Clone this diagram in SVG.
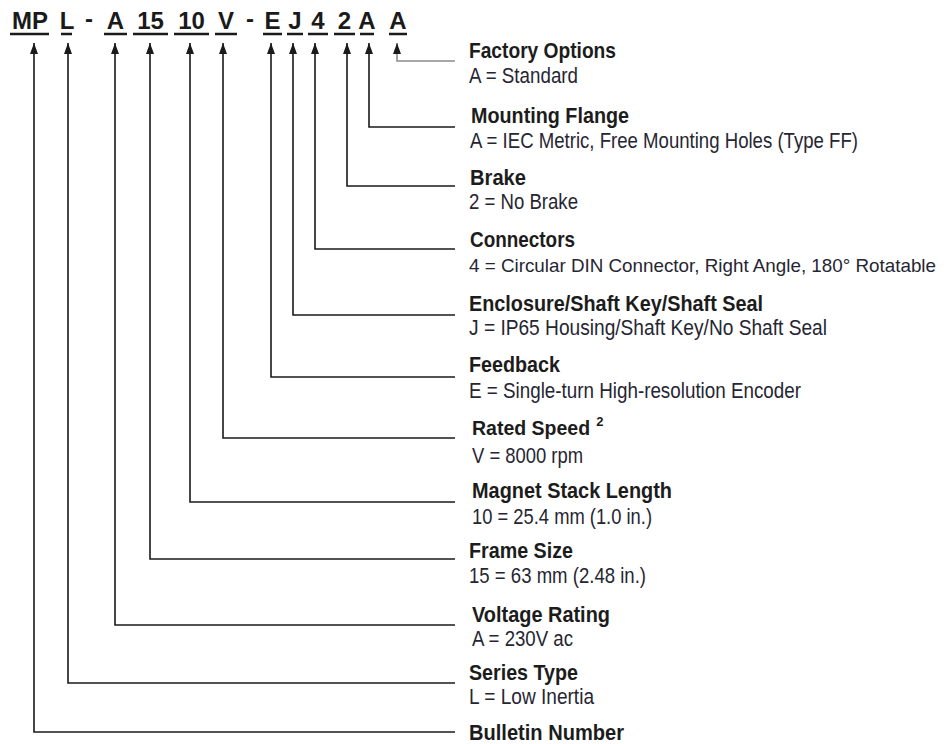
<svg xmlns="http://www.w3.org/2000/svg" width="947" height="744" viewBox="0 0 947 744">
<style>
.code{font-family:"Liberation Sans",Arial,sans-serif;font-weight:bold;font-size:24px;fill:#1a1a1a;text-anchor:middle}
.ul{stroke:#1a1a1a;stroke-width:2.6}
.t{font-family:"Liberation Sans Narrow","Liberation Sans",Arial,sans-serif;font-weight:bold;font-size:21.5px;fill:#1c1c1c}
.s{font-family:"Liberation Sans Narrow","Liberation Sans",Arial,sans-serif;font-size:22px;fill:#262633}
.c{fill:none;stroke:#1a1a1a;stroke-width:1.6;marker-start:url(#ah)}
.g{stroke:#8a8a8a}
</style>
<defs>
<marker id="ah" markerUnits="userSpaceOnUse" markerWidth="11" markerHeight="8" viewBox="0 0 11 8" refX="11" refY="4" orient="auto-start-reverse">
<path d="M0,0 L11,4 L0,8 Z" fill="#1a1a1a"/>
</marker>
</defs>
<g id="code">
<text class="code" x="30" y="29">MP</text>
<text class="code" x="67" y="29">L</text>
<text class="code" x="89" y="27">-</text>
<text class="code" x="115.5" y="29">A</text>
<text class="code" x="150.5" y="29">15</text>
<text class="code" x="191.5" y="29">10</text>
<text class="code" x="226" y="29">V</text>
<text class="code" x="250" y="27">-</text>
<text class="code" x="272.5" y="29">E</text>
<text class="code" x="295" y="29">J</text>
<text class="code" x="318" y="29">4</text>
<text class="code" x="344.5" y="29">2</text>
<text class="code" x="367" y="29">A</text>
<text class="code" x="398" y="29">A</text>
<path class="ul" d="M10 34H49M61 34H72M104 34H127M133 34H168M174 34H209M215 34H237M263 34H282M287 34H303M308 34H328M334 34H355M360 34H374M389 34H407"/>
</g>
<g id="connectors">
<path class="c g" d="M397 43V61H455"/>
<path class="c" d="M369 43V127H455"/>
<path class="c" d="M347 43V186H455"/>
<path class="c" d="M315 43V249H455"/>
<path class="c" d="M293 43V315H455"/>
<path class="c" d="M271 43V377H455"/>
<path class="c" d="M223 43V438H455"/>
<path class="c" d="M190 43V502H455"/>
<path class="c" d="M150 43V559H455"/>
<path class="c" d="M115 43V625H455"/>
<path class="c" d="M68 43V683H455"/>
<path class="c" d="M34 43V732H455"/>
</g>
<g id="factory-options">
<text class="t" x="469" y="58" textLength="147" lengthAdjust="spacingAndGlyphs">Factory Options</text>
<text class="s" x="469" y="83" textLength="109" lengthAdjust="spacingAndGlyphs">A = Standard</text>
</g>
<g id="mounting-flange">
<text class="t" x="471" y="123" textLength="158" lengthAdjust="spacingAndGlyphs">Mounting Flange</text>
<text class="s" x="470" y="148" textLength="388" lengthAdjust="spacingAndGlyphs">A = IEC Metric, Free Mounting Holes (Type FF)</text>
</g>
<g id="brake">
<text class="t" x="470" y="185" textLength="56" lengthAdjust="spacingAndGlyphs">Brake</text>
<text class="s" x="469" y="209" textLength="109" lengthAdjust="spacingAndGlyphs">2 = No Brake</text>
</g>
<g id="connectors-node">
<text class="t" x="470" y="247" textLength="105" lengthAdjust="spacingAndGlyphs">Connectors</text>
<text class="s" x="469" y="272" textLength="467" lengthAdjust="spacingAndGlyphs" style="font-size:19px">4 = Circular DIN Connector, Right Angle, 180° Rotatable</text>
</g>
<g id="enclosure">
<text class="t" x="469" y="311" textLength="294" lengthAdjust="spacingAndGlyphs">Enclosure/Shaft Key/Shaft Seal</text>
<text class="s" x="469" y="335" textLength="358" lengthAdjust="spacingAndGlyphs">J = IP65 Housing/Shaft Key/No Shaft Seal</text>
</g>
<g id="feedback">
<text class="t" x="469" y="372" textLength="91" lengthAdjust="spacingAndGlyphs">Feedback</text>
<text class="s" x="469" y="398" textLength="332" lengthAdjust="spacingAndGlyphs">E = Single-turn High-resolution Encoder</text>
</g>
<g id="rated-speed">
<text class="t" x="472" y="435" style="font-size:19.5px">Rated Speed<tspan dx="6" dy="-9" style="font-size:13px">2</tspan></text>
<text class="s" x="472" y="463" textLength="111" lengthAdjust="spacingAndGlyphs">V = 8000 rpm</text>
</g>
<g id="magnet-stack-length">
<text class="t" x="472" y="498" textLength="200" lengthAdjust="spacingAndGlyphs">Magnet Stack Length</text>
<text class="s" x="472" y="524" textLength="180" lengthAdjust="spacingAndGlyphs">10 = 25.4 mm (1.0 in.)</text>
</g>
<g id="frame-size">
<text class="t" x="469" y="558" textLength="104" lengthAdjust="spacingAndGlyphs">Frame Size</text>
<text class="s" x="469" y="583" textLength="177" lengthAdjust="spacingAndGlyphs">15 = 63 mm (2.48 in.)</text>
</g>
<g id="voltage-rating">
<text class="t" x="472" y="622" textLength="138" lengthAdjust="spacingAndGlyphs">Voltage Rating</text>
<text class="s" x="472" y="646" textLength="101" lengthAdjust="spacingAndGlyphs">A = 230V ac</text>
</g>
<g id="series-type">
<text class="t" x="469" y="680" textLength="109" lengthAdjust="spacingAndGlyphs">Series Type</text>
<text class="s" x="469" y="704" textLength="125" lengthAdjust="spacingAndGlyphs">L = Low Inertia</text>
</g>
<g id="bulletin-number">
<text class="t" x="469" y="740" textLength="155" lengthAdjust="spacingAndGlyphs">Bulletin Number</text>
</g>
</svg>
